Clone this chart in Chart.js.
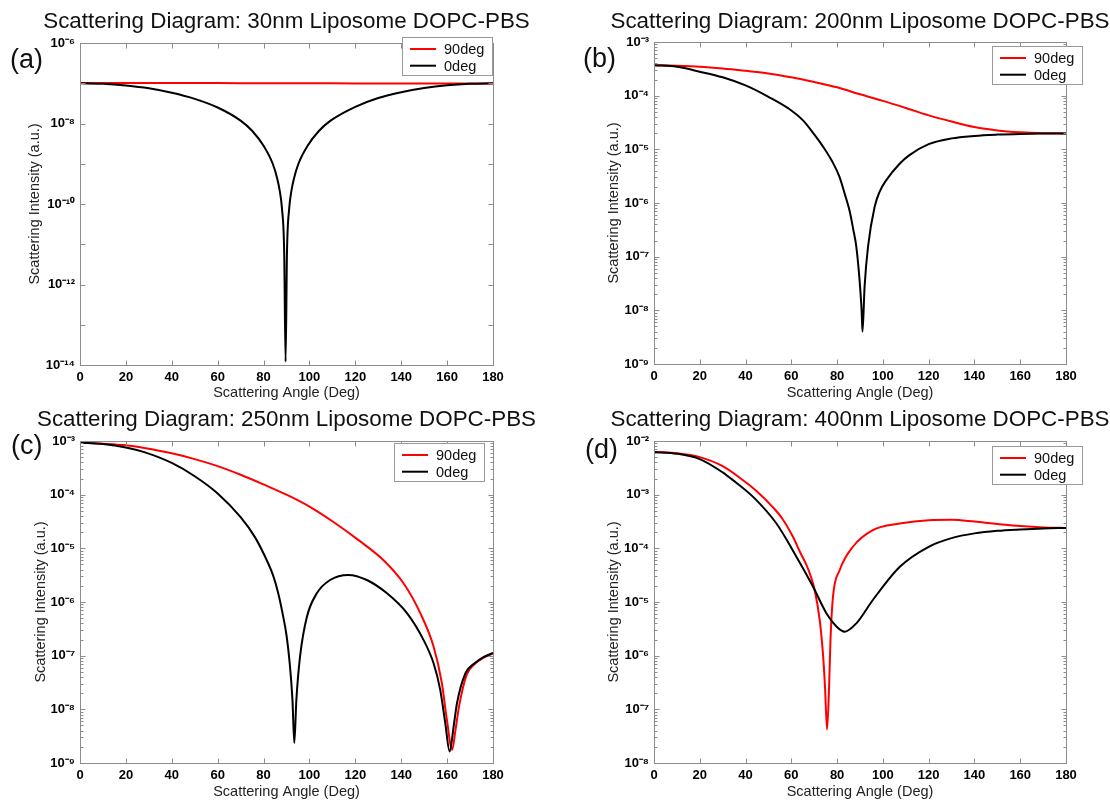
<!DOCTYPE html>
<html>
<head>
<meta charset="utf-8">
<script src="https://cdn.jsdelivr.net/npm/chart.js@4.4.1/dist/chart.umd.min.js"></script>
<style>
  body { margin: 0; background: #fff; width: 1110px; height: 803px; position: relative; overflow: hidden; }
  canvas { position: absolute; }
</style>
</head>
<body>
<canvas id="chartA" width="555" height="406" style="left:0;top:0"></canvas>
<canvas id="chartB" width="555" height="406" style="left:555px;top:0"></canvas>
<canvas id="chartC" width="555" height="403" style="left:0;top:400px"></canvas>
<canvas id="chartD" width="555" height="403" style="left:555px;top:400px"></canvas>
<script>
// tick values
const angleTicks = [0, 20, 40, 60, 80, 100, 120, 140, 160, 180];
const yTicksA = [1e-14, 1e-12, 1e-10, 1e-8, 1e-6];
const yTicksB = [1e-9, 1e-8, 1e-7, 1e-6, 1e-5, 1e-4, 1e-3];
const yTicksC = [1e-9, 1e-8, 1e-7, 1e-6, 1e-5, 1e-4, 1e-3];
const yTicksD = [1e-8, 1e-7, 1e-6, 1e-5, 1e-4, 1e-3, 1e-2];

// (a) 30nm
const anglesA90 = [0, 20, 40, 60, 80, 100, 120, 140, 160, 180];
const valuesA90 = [1.02e-7, 1.02e-7, 1.01e-7, 1.01e-7, 1.0e-7, 1.0e-7, 0.99e-7, 0.99e-7, 0.98e-7, 0.98e-7];
const anglesA0 = [0, 10, 20, 30, 40, 50, 60, 70, 75, 80, 84, 86, 87, 88, 89, 89.6, 90.2, 91.2, 92.2, 93.2, 95.2, 99.2, 104.2, 109.2, 120, 130, 140, 150, 160, 170, 180];
const valuesA0 = [1.0e-7, 9.7e-8, 8.8e-8, 7.5e-8, 5.8e-8, 4.1e-8, 2.5e-8, 1.18e-8, 6.6e-9, 2.8e-9, 1.0e-9, 4.2e-10, 2.2e-10, 8e-11, 6e-12, 1.2e-14, 6e-12, 8e-11, 2.2e-10, 4.2e-10, 1.0e-9, 2.8e-9, 6.6e-9, 1.18e-8, 2.6e-8, 4.3e-8, 6.0e-8, 7.6e-8, 8.9e-8, 9.7e-8, 1.0e-7];

// (b) 200nm
const anglesB90 = [0, 10, 20, 30, 40, 50, 60, 70, 80, 90, 100, 110, 120, 130, 140, 150, 160, 170, 180];
const valuesB90 = [3.7e-4, 3.6e-4, 3.45e-4, 3.2e-4, 2.9e-4, 2.6e-4, 2.2e-4, 1.8e-4, 1.43e-4, 1.06e-4, 8.0e-5, 5.9e-5, 4.3e-5, 3.3e-5, 2.6e-5, 2.25e-5, 2.08e-5, 2.0e-5, 1.98e-5];
const anglesB0 = [0, 10, 20, 30, 40, 50, 60, 65, 70, 74, 78, 81, 83.5, 85.5, 87, 88.4, 89.8, 90.7, 91.1, 92, 93.5, 96.4, 98.5, 101.5, 107.3, 111.6, 120, 130, 140, 150, 160, 170, 180];
const valuesB0 = [3.7e-4, 3.45e-4, 2.8e-4, 2.2e-4, 1.55e-4, 9.5e-5, 5.3e-5, 3.5e-5, 1.9e-5, 1.1e-5, 5.8e-6, 3.1e-6, 1.4e-6, 7.0e-7, 3.3e-7, 1.53e-7, 3.7e-8, 1.0e-8, 4.0e-9, 2.75e-8, 1.53e-7, 8.5e-7, 1.6e-6, 2.67e-6, 5.4e-6, 7.8e-6, 1.25e-5, 1.6e-5, 1.78e-5, 1.88e-5, 1.94e-5, 1.97e-5, 1.98e-5];

// (c) 250nm
const anglesC90 = [0, 10, 20, 28, 40, 50, 60, 70, 80, 90, 100, 110, 121.4, 132.3, 141, 148.3, 154.1, 157.7, 159.9, 162.2, 163.6, 165.3, 168.5, 172, 176, 180];
const valuesC90 = [9.3e-4, 8.9e-4, 8.3e-4, 7.4e-4, 5.9e-4, 4.6e-4, 3.4e-4, 2.35e-4, 1.55e-4, 1.0e-4, 6.0e-5, 3.2e-5, 1.42e-5, 6.0e-6, 2.23e-6, 6.2e-7, 1.48e-7, 3.1e-8, 6.4e-9, 1.77e-9, 4e-9, 1.2e-8, 4.4e-8, 7e-8, 9.2e-8, 1.1e-7];
const anglesC0 = [0, 10, 20, 28, 40, 50, 60, 70, 76.3, 80, 84.3, 86.5, 88.7, 90, 91.3, 92.6, 93.4, 94.3, 95.9, 98.9, 103.2, 109, 117, 125, 133.8, 142.5, 149.7, 154.1, 157, 159.2, 161.1, 162.9, 164.3, 168, 172, 176, 180];
const valuesC0 = [9.3e-4, 8.8e-4, 7.6e-4, 6.2e-4, 3.9e-4, 2.2e-4, 1.05e-4, 3.8e-5, 1.6e-5, 8.0e-6, 3.0e-6, 1.4e-6, 5.0e-7, 2.4e-7, 8.0e-8, 1.5e-8, 2.35e-9, 1.5e-8, 9.6e-8, 5.3e-7, 1.45e-6, 2.57e-6, 3.2e-6, 2.57e-6, 1.45e-6, 6.2e-7, 1.97e-7, 7.2e-8, 2.3e-8, 5.5e-9, 1.64e-9, 5e-9, 1.3e-8, 4.7e-8, 7.2e-8, 9.5e-8, 1.12e-7];

// (d) 400nm
const anglesD90 = [0, 10, 20, 30, 38.9, 45, 52, 56, 60.7, 64, 66.6, 68.5, 70.2, 72.4, 73.8, 74.7, 75.6, 76.5, 77.1, 78.2, 81.1, 86.9, 95.6, 107.3, 120, 130, 140, 150, 160, 170, 180];
const valuesD90 = [6.25e-3, 5.9e-3, 5.0e-3, 3.4e-3, 1.86e-3, 1.15e-3, 5.8e-4, 3.6e-4, 1.64e-4, 8.2e-5, 4.9e-5, 3.0e-5, 1.67e-5, 4.6e-6, 1.1e-6, 2.7e-7, 4.2e-8, 2.7e-7, 1.95e-6, 1.26e-5, 3.9e-5, 1.07e-4, 2.18e-4, 2.9e-4, 3.35e-4, 3.4e-4, 3.15e-4, 2.85e-4, 2.6e-4, 2.45e-4, 2.4e-4];
const anglesD0 = [0, 10, 20, 30, 33.9, 43.3, 53.5, 62.2, 69.5, 75.3, 79.7, 83.3, 88.4, 95.6, 107.3, 120, 130, 140, 150, 160, 170, 180];
const valuesD0 = [6.25e-3, 5.8e-3, 4.6e-3, 2.6e-3, 1.95e-3, 9.1e-4, 2.9e-4, 7e-5, 1.93e-5, 6.2e-6, 3.5e-6, 2.8e-6, 4.0e-6, 1.09e-5, 4.5e-5, 1.07e-4, 1.55e-4, 1.9e-4, 2.12e-4, 2.25e-4, 2.35e-4, 2.4e-4];

const FONT = '"Liberation Sans", Arial, sans-serif';
Chart.defaults.font.family = FONT;

const sup = { '-': '\u207B', '0': '\u2070', '1': '\u00B9', '2': '\u00B2', '3': '\u00B3', '4': '\u2074',
              '5': '\u2075', '6': '\u2076', '7': '\u2077', '8': '\u2078', '9': '\u2079' };
function powLabel(v) {
  const e = Math.round(Math.log10(v));
  return '10' + String(e).split('').map(c => sup[c]).join('');
}

// frame with inner ticks, title, boxed legend and panel letter
const framePlugin = {
  id: 'frame',
  afterDatasetsDraw(chart, args, o) {
    const { ctx, chartArea: a } = chart;
    const x = chart.scales.x, y = chart.scales.y;
    const L = Math.round(a.left) + 0.5, R = Math.round(a.right) + 0.5;
    const T = Math.round(a.top) + 0.5, B = Math.round(a.bottom) + 0.5;
    ctx.save();
    ctx.strokeStyle = '#8c8c8c';
    ctx.lineWidth = 1;
    ctx.strokeRect(L, T, R - L, B - T);
    ctx.beginPath();
    x.ticks.forEach(t => {
      const px = Math.round(x.getPixelForValue(t.value)) + 0.5;
      ctx.moveTo(px, B); ctx.lineTo(px, B - 5);
      ctx.moveTo(px, T); ctx.lineTo(px, T + 5);
    });
    const e0 = Math.round(Math.log10(y.min)), e1 = Math.round(Math.log10(y.max));
    for (let e = e0; e <= e1; e++) {
      for (let s = 1; s <= (o.minor ? 9 : 1); s++) {
        const v = s * Math.pow(10, e);
        if (v > y.max * 1.0001) break;
        const py = Math.round(y.getPixelForValue(v)) + 0.5;
        const len = s === 1 ? 5 : 3;
        ctx.moveTo(L, py); ctx.lineTo(L + len, py);
        ctx.moveTo(R, py); ctx.lineTo(R - len, py);
      }
    }
    ctx.stroke();
    ctx.restore();
  },
  afterDraw(chart, args, o) {
    const { ctx, chartArea: a } = chart;
    ctx.save();
    // title, centred on the plot box
    ctx.font = '22.4px ' + FONT;
    ctx.fillStyle = '#111';
    ctx.textAlign = 'center';
    ctx.textBaseline = 'middle';
    ctx.fillText(o.title, (a.left + a.right) / 2, o.titleY);
    // legend
    const [lx, ly] = o.legendPos;
    ctx.textAlign = 'left';
    ctx.fillStyle = '#fff';
    ctx.fillRect(lx, ly, 90, 38);
    ctx.strokeStyle = '#999';
    ctx.lineWidth = 1;
    ctx.strokeRect(lx + 0.5, ly + 0.5, 90, 38);
    ctx.font = '14.5px ' + FONT;
    chart.data.datasets.forEach((ds, i) => {
      const ry = ly + 12 + i * 16.7;
      ctx.strokeStyle = ds.borderColor;
      ctx.lineWidth = 2;
      ctx.beginPath();
      ctx.moveTo(lx + 8, ry); ctx.lineTo(lx + 34, ry);
      ctx.stroke();
      ctx.fillStyle = '#111';
      ctx.fillText(ds.label, lx + 42, ry + 1);
    });
    // panel letter
    ctx.font = '27px ' + FONT;
    ctx.fillStyle = '#111';
    ctx.fillText(o.tag, o.tagPos[0], o.tagPos[1]);
    ctx.restore();
  }
};

const panels = [
  { id: 'chartA', title: 'Scattering Diagram: 30nm Liposome DOPC-PBS', titleY: 22, tag: '(a)',
    box: { left: 80, right: 493, top: 43, bottom: 365 }, yMin: 1e-14, yMax: 1e-6, yTicks: yTicksA, minor: false,
    red: [anglesA90, valuesA90], black: [anglesA0, valuesA0],
    yTitleX: 35, xTitleY: 393, tagPos: [10, 61], legendPos: [402, 37] },
  { id: 'chartB', title: 'Scattering Diagram: 200nm Liposome DOPC-PBS', titleY: 22, tag: '(b)',
    box: { left: 99, right: 511, top: 42, bottom: 364 }, yMin: 1e-9, yMax: 1e-3, yTicks: yTicksB, minor: true,
    red: [anglesB90, valuesB90], black: [anglesB0, valuesB0],
    yTitleX: 59, xTitleY: 393, tagPos: [28, 60], legendPos: [437, 46] },
  { id: 'chartC', title: 'Scattering Diagram: 250nm Liposome DOPC-PBS', titleY: 20, tag: '(c)',
    box: { left: 80, right: 493, top: 41, bottom: 363 }, yMin: 1e-9, yMax: 1e-3, yTicks: yTicksC, minor: true,
    red: [anglesC90, valuesC90], black: [anglesC0, valuesC0],
    yTitleX: 41, xTitleY: 392, tagPos: [11, 47], legendPos: [394, 43] },
  { id: 'chartD', title: 'Scattering Diagram: 400nm Liposome DOPC-PBS', titleY: 20, tag: '(d)',
    box: { left: 99, right: 511, top: 41, bottom: 363 }, yMin: 1e-8, yMax: 1e-2, yTicks: yTicksD, minor: true,
    red: [anglesD90, valuesD90], black: [anglesD0, valuesD0],
    yTitleX: 59, xTitleY: 392, tagPos: [30, 51], legendPos: [437, 46] }
];

function makeChart(p) {
  const canvas = document.getElementById(p.id);
  const W = canvas.width, H = canvas.height;
  const series = (angles, vals) => angles.map((a, i) => ({ x: a, y: vals[i] }));
  return new Chart(canvas, {
    type: 'line',
    data: {
      datasets: [
        { label: '90deg', data: series(p.red[0], p.red[1]), borderColor: '#ff0000', borderWidth: 2,
          pointRadius: 0, cubicInterpolationMode: 'monotone', order: 1 },
        { label: '0deg', data: series(p.black[0], p.black[1]), borderColor: '#000000', borderWidth: 2,
          pointRadius: 0, cubicInterpolationMode: 'monotone', order: 0 }
      ]
    },
    options: {
      responsive: false,
      animation: false,
      devicePixelRatio: 1,
      layout: { padding: { left: 0, top: p.box.top, right: W - p.box.right, bottom: 0 } },
      plugins: {
        legend: { display: false },
        tooltip: { enabled: false },
        title: { display: false },
        frame: { title: p.title, titleY: p.titleY, tag: p.tag, tagPos: p.tagPos, legendPos: p.legendPos, minor: p.minor }
      },
      scales: {
        x: {
          type: 'linear', min: 0, max: 180,
          afterBuildTicks: s => { s.ticks = angleTicks.map(v => ({ value: v })); },
          afterFit: s => { s.height = H - p.box.bottom; s.paddingLeft = 0; s.paddingRight = 0; },
          grid: { display: false, drawTicks: false },
          border: { display: false },
          ticks: { color: '#000', font: { size: 13, weight: 'bold' }, padding: 5, maxRotation: 0, autoSkip: false },
          title: { display: true, text: 'Scattering Angle (Deg)', color: '#222', font: { size: 14.5 },
                   padding: { top: 0, bottom: H - p.xTitleY - 8.7 } }
        },
        y: {
          type: 'logarithmic', min: p.yMin, max: p.yMax,
          afterBuildTicks: s => { s.ticks = p.yTicks.map(v => ({ value: v })); },
          afterFit: s => { s.width = p.box.left; s.paddingTop = 0; s.paddingBottom = 0; },
          grid: { display: false, drawTicks: false },
          border: { display: false },
          ticks: { color: '#000', font: { size: 13, weight: 'bold' }, padding: 5, autoSkip: false,
                   callback: v => powLabel(v) },
          title: { display: true, text: 'Scattering Intensity (a.u.)', color: '#222', font: { size: 14.5 },
                   padding: { top: p.yTitleX - 8.7, bottom: 0 } }
        }
      }
    },
    plugins: [framePlugin]
  });
}

panels.forEach(makeChart);
</script>
</body>
</html>
